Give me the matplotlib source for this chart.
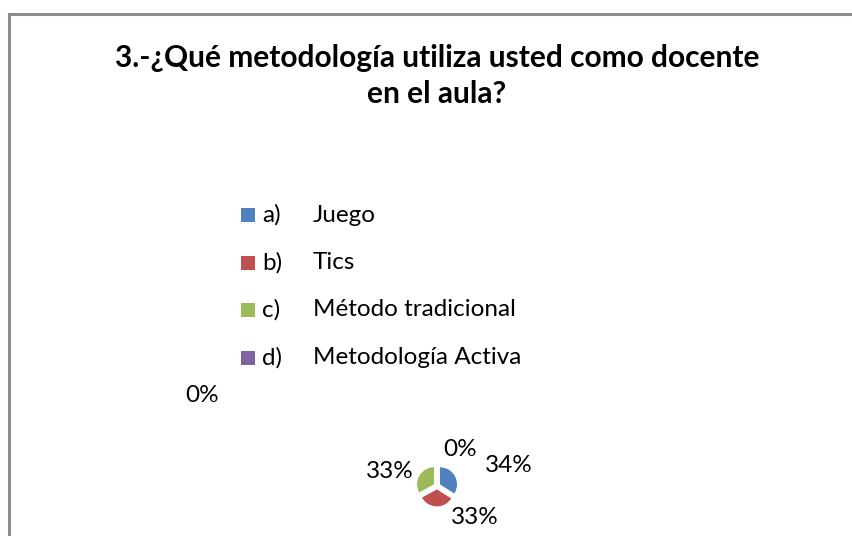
import matplotlib
matplotlib.use("Agg")
import matplotlib.pyplot as plt
from matplotlib.patches import Rectangle
from matplotlib.lines import Line2D
import numpy as np

title = "3.-¿Qué metodología utiliza usted como docente\nen el aula?"
letters = ["a)", "b)", "c)", "d)"]
categories = ["Juego", "Tics", "Método tradicional", "Metodología Activa"]
values = [34, 33, 33, 0]
colors = ["#4F81BD", "#C0504D", "#9BBB59", "#8064A2"]

W, H = 852, 536
fig = plt.figure(figsize=(W / 100, H / 100), dpi=100)
fig.patch.set_facecolor("white")
font = "Lato"
fs = 17.5

# frame lines (left and top)
fig.add_artist(Line2D([9 / W, 9 / W], [0, 1 - 14 / H], color="#8c8c8c", lw=2.2))
fig.add_artist(Line2D([9 / W, 1], [1 - 14 / H, 1 - 14 / H], color="#8c8c8c", lw=2.2))

fig.text(437 / W, 1 - 76 / H, title, ha="center", va="center", fontsize=21.5,
         fontweight="bold", family=font, linespacing=1.35, color="#000000")

# legend
y0, dy = 215, 47.5
for i, (lt, cat, col) in enumerate(zip(letters, categories, colors)):
    y = y0 + i * dy
    fig.add_artist(Rectangle((241 / W, 1 - (y + 7) / H), 14 / W, 14 / H,
                             transform=fig.transFigure, facecolor=col, edgecolor="none"))
    fig.text(262 / W, 1 - y / H, lt, ha="left", va="center", fontsize=fs, family=font)
    fig.text(313 / W, 1 - y / H, cat, ha="left", va="center", fontsize=fs, family=font)

# pie
cx, cy, r = 437, 486, 17
lim = 1.4
ax = fig.add_axes([(cx - r * lim) / W, 1 - (cy + r * lim) / H, 2 * r * lim / W, 2 * r * lim / H])
ax.set_aspect("equal")
wedges, _ = ax.pie(values, colors=colors, startangle=90, counterclock=False,
                   explode=[0.2] * 4, radius=1.0,
                   wedgeprops=dict(edgecolor="none"))
ax.set_xlim(-lim, lim)
ax.set_ylim(-lim, lim)
ax.axis("off")

# data labels
label_pos = [(509, 465), (475, 518), (390, 471), (460, 449)]
for v, (x, y) in zip(values, label_pos):
    fig.text(x / W, 1 - y / H, f"{v}%", ha="center", va="center", fontsize=fs, family=font)
# stray label of the zero slice as in the original
fig.text(202 / W, 1 - 396 / H, f"{values[3]}%", ha="center", va="center", fontsize=fs, family=font)

fig.savefig("out.png", dpi=100)
